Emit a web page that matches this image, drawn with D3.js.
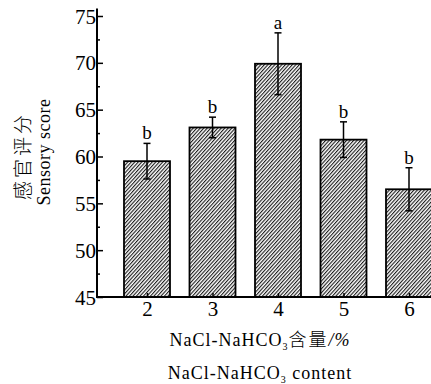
<!DOCTYPE html>
<html>
<head>
<meta charset="utf-8">
<script src="https://cdn.jsdelivr.net/npm/d3@7"></script>
<style>
  body { margin: 0; background: #fff; }
  svg text { font-family: "Liberation Serif", "DejaVu Serif", serif; fill: #000; }
  svg text .cjk, svg text.cjk { font-family: "Noto Sans CJK SC", sans-serif; font-weight: 300; }
</style>
</head>
<body>
<svg id="chart"></svg>
<script>
const width = 431;
const height = 384;

// data
const contents = [2, 3, 4, 5, 6];
const scores = [59.5, 63.1, 69.9, 61.8, 56.5];
const errors = [1.9, 1.1, 3.3, 1.9, 2.3];
const letters = ['b', 'b', 'a', 'b', 'b'];
const yTicks = [45, 50, 55, 60, 65, 70, 75];
const yMinor = [47.5, 52.5, 57.5, 62.5, 67.5, 72.5];

const svg = d3.select('#chart')
  .attr('width', width)
  .attr('height', height);

const x = d3.scaleLinear()
  .domain([2, 6])
  .range([147, 409]);

const y = d3.scaleLinear()
  .domain([45, 75])
  .range([297, 16]);

const barWidth = 46;

// hatch fill
svg.append('defs')
  .append('pattern')
  .attr('id', 'hatch')
  .attr('patternUnits', 'userSpaceOnUse')
  .attr('width', 2.6)
  .attr('height', 2.6)
  .attr('patternTransform', 'rotate(42)')
  .append('line')
  .attr('x1', 0.6).attr('y1', 0)
  .attr('x2', 0.6).attr('y2', 2.6)
  .attr('stroke', '#000')
  .attr('stroke-width', 1);

svg.selectAll('rect.bar')
  .data(scores)
  .enter()
  .append('rect')
  .attr('class', 'bar')
  .attr('x', (d, i) => x(contents[i]) - barWidth / 2)
  .attr('y', (d) => y(d))
  .attr('width', barWidth)
  .attr('height', (d) => y(45) - y(d))
  .attr('fill', 'url(#hatch)')
  .attr('stroke', '#000')
  .attr('stroke-width', 1.8);

// error bars
const err = svg.append('g')
  .attr('stroke', '#000')
  .attr('stroke-width', 1.5);

scores.forEach((d, i) => {
  const cx = x(contents[i]);
  err.append('line')
    .attr('x1', cx).attr('x2', cx)
    .attr('y1', y(d + errors[i])).attr('y2', y(d - errors[i]));
  [d + errors[i], d - errors[i]].forEach((v) => {
    err.append('line')
      .attr('x1', cx - 3.5).attr('x2', cx + 3.5)
      .attr('y1', y(v)).attr('y2', y(v));
  });
});

svg.selectAll('text.letter')
  .data(letters)
  .enter()
  .append('text')
  .attr('class', 'letter')
  .attr('x', (d, i) => x(contents[i]))
  .attr('y', (d, i) => y(scores[i] + errors[i]) - 4)
  .attr('text-anchor', 'middle')
  .attr('font-size', 19)
  .text((d) => d);

// Left axis, ticks pointing inward
const yAxis = svg.append('g')
  .attr('transform', 'translate(97, 0)')
  .call(d3.axisLeft(y)
    .tickValues(yTicks)
    .tickSizeInner(-6)
    .tickSizeOuter(0)
    .tickPadding(1));

yAxis.select('.domain').remove();
yAxis.selectAll('text')
  .attr('font-size', 21)
  .attr('dy', '0.34em');
yAxis.selectAll('line').attr('stroke-width', 1.5);

svg.append('g')
  .attr('transform', 'translate(97, 0)')
  .call(d3.axisLeft(y).tickValues(yMinor).tickSizeInner(-3).tickSizeOuter(0).tickFormat(''))
  .call((g) => g.select('.domain').remove())
  .selectAll('line').attr('stroke-width', 1.5);

svg.append('line')
  .attr('x1', 97).attr('x2', 97)
  .attr('y1', y(45) + 1).attr('y2', y(75.8))
  .attr('stroke', '#000')
  .attr('stroke-width', 2);

// Bottom axis
const xAxis = svg.append('g')
  .attr('transform', `translate(0, ${y(45)})`)
  .call(d3.axisBottom(x)
    .tickValues(contents)
    .tickFormat(d3.format('d'))
    .tickSizeInner(-4)
    .tickSizeOuter(0)
    .tickPadding(4));

xAxis.select('.domain').remove();
xAxis.selectAll('text')
  .attr('font-size', 21)
  .attr('dy', '0.72em');
xAxis.selectAll('line').attr('stroke-width', 1.5);

svg.append('line')
  .attr('x1', 96).attr('x2', width)
  .attr('y1', y(45)).attr('y2', y(45))
  .attr('stroke', '#000')
  .attr('stroke-width', 2);

// axis titles
const xt1 = svg.append('text')
  .attr('x', 260).attr('y', 346)
  .attr('text-anchor', 'middle')
  .attr('font-size', 18)
  .attr('letter-spacing', 1);
xt1.append('tspan').text('NaCl-NaHCO');
xt1.append('tspan').attr('font-size', 10).attr('dy', 4).text('3');
xt1.append('tspan').attr('class', 'cjk').attr('dy', -4).attr('letter-spacing', 2).text('含量');
xt1.append('tspan').attr('font-style', 'italic').text('/%');

const xt2 = svg.append('text')
  .attr('x', 260).attr('y', 379)
  .attr('text-anchor', 'middle')
  .attr('font-size', 18)
  .attr('letter-spacing', 1);
xt2.append('tspan').text('NaCl-NaHCO');
xt2.append('tspan').attr('font-size', 10).attr('dy', 4).text('3');
xt2.append('tspan').attr('dy', -4).text(' content');

svg.append('text')
  .attr('class', 'cjk')
  .attr('transform', 'translate(30, 156) rotate(-90)')
  .attr('text-anchor', 'middle')
  .attr('font-size', 19)
  .attr('letter-spacing', 3)
  .text('感官评分');

svg.append('text')
  .attr('transform', 'translate(50, 152) rotate(-90)')
  .attr('text-anchor', 'middle')
  .attr('font-size', 18)
  .attr('letter-spacing', 0.5)
  .text('Sensory score');
</script>
</body>
</html>
